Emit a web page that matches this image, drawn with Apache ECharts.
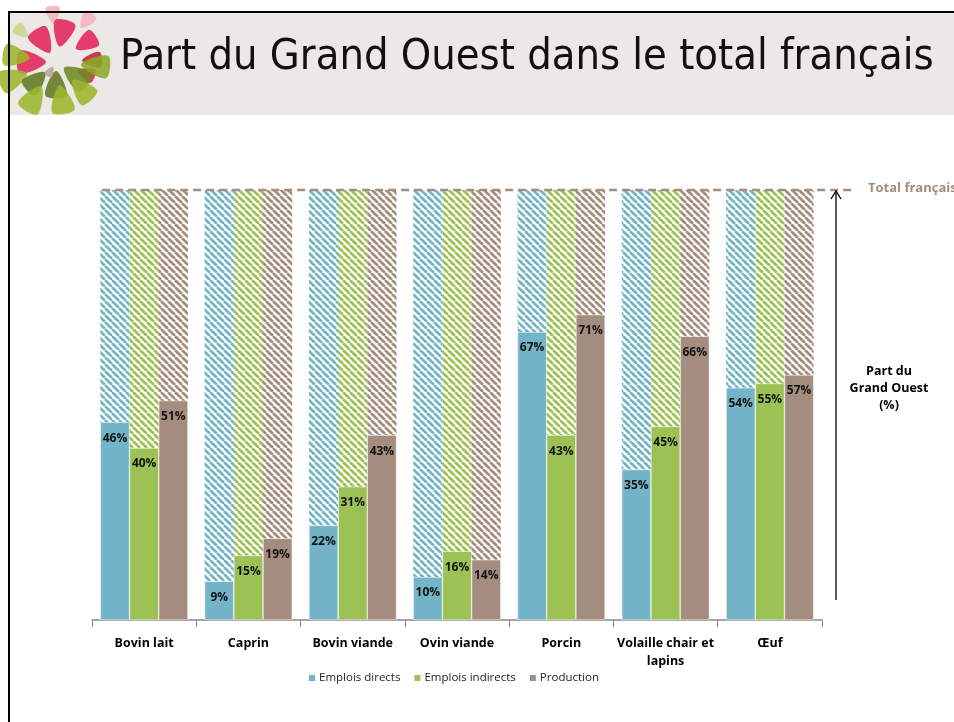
<!DOCTYPE html>
<html>
<head>
<meta charset="utf-8">
<script src="https://cdn.jsdelivr.net/npm/echarts@6/dist/echarts.min.js"></script>
<style>
  html, body { margin: 0; padding: 0; background: #fff; }
  #main { width: 954px; height: 722px; }
</style>
</head>
<body>
<div id="main"></div>
<script>
// filières
var categories = ['Bovin lait', 'Caprin', 'Bovin viande', 'Ovin viande', 'Porcin', 'Volaille chair et\nlapins', 'Œuf'];
// part du Grand Ouest (%)
var emploisDirects = [46, 9, 22, 10, 67, 35, 54];
var emploisIndirects = [40, 15, 31, 16, 43, 45, 55];
var production = [51, 19, 43, 14, 71, 66, 57];
var totalFrancais = 100;

var BLUE = '#74b4c8', GREEN = '#9cc255', BROWN = '#a48c7e';

// hachures diagonales
function hatch(color) {
  var s = 7;
  var c = document.createElement('canvas');
  c.width = s; c.height = s;
  var ctx = c.getContext('2d');
  ctx.fillStyle = '#fff';
  ctx.fillRect(0, 0, s, s);
  ctx.strokeStyle = color;
  ctx.lineWidth = 2.7;
  [-s, 0, s].forEach(function (k) {
    ctx.beginPath();
    ctx.moveTo(k, 0);
    ctx.lineTo(k + s, s);
    ctx.stroke();
  });
  return { image: c, repeat: 'repeat' };
}

function rest(arr) {
  return arr.map(function (v) { return totalFrancais - v; });
}

function solid(name, data, color, stack) {
  return {
    name: name, type: 'bar', stack: stack, data: data,
    barGap: '0%', barCategoryGap: '16%',
    itemStyle: { color: color, borderColor: '#fff', borderWidth: 0.5 },
    label: {
      show: true, position: 'insideTop', distance: 10,
      formatter: '{c}%', fontWeight: 'bold', fontSize: 12, color: '#111',
      fontFamily: 'Open Sans'
    }
  };
}
function hatched(data, color, stack) {
  return {
    type: 'bar', stack: stack, data: rest(data),
    barGap: '0%', barCategoryGap: '16%',
    itemStyle: { color: hatch(color) },
    silent: true
  };
}

var chart = echarts.init(document.getElementById('main'), null, { renderer: 'canvas' });

chart.setOption({
  animation: false,
  textStyle: { fontFamily: 'Open Sans' },
  grid: { left: 92, right: 132, top: 190, bottom: 102 },
  legend: {
    left: 302, top: 667,
    itemWidth: 8, itemHeight: 8, itemGap: 12,
    icon: 'rect',
    data: ['Emplois directs', 'Emplois indirects', 'Production'],
    textStyle: { fontSize: 11.5, color: '#222', fontFamily: 'Open Sans', padding: [0, 0, 0, -2] }
  },
  xAxis: {
    type: 'category', data: categories,
    axisLine: { lineStyle: { color: '#888', width: 1.5 } },
    axisTick: { show: true, length: 7, lineStyle: { color: '#888' } },
    axisLabel: {
      fontWeight: 'bold', fontSize: 12.5, color: '#000', margin: 14,
      lineHeight: 18, interval: 0
    }
  },
  yAxis: {
    type: 'value', min: 0, max: totalFrancais, show: false,
    splitLine: { show: false }
  },
  series: [
    solid('Emplois directs', emploisDirects, BLUE, 'd'),
    hatched(emploisDirects, BLUE, 'd'),
    solid('Emplois indirects', emploisIndirects, GREEN, 'i'),
    hatched(emploisIndirects, GREEN, 'i'),
    solid('Production', production, BROWN, 'p'),
    hatched(production, BROWN, 'p')
  ]
});

// annotations placées à partir des échelles
var yTop = chart.convertToPixel({ yAxisIndex: 0 }, totalFrancais);
var yZero = chart.convertToPixel({ yAxisIndex: 0 }, 0);
var xLeft = chart.convertToPixel({ xAxisIndex: 0 }, categories[0]) - 42;

// logo : pétales triangulaires pointant vers le centre
var LC = [56, 62];
var petals = [
  [53, 14, 10, '#f4b3bf'], [87, 20, 10, '#f4b3bf'], [21, 31, 9, '#c9d68a'],
  [63, 32, 15, '#e2245a'], [42, 40, 15, '#e2245a'], [87, 42, 13, '#e2245a'],
  [30, 62, 16, '#e2245a'], [93, 60, 11, '#c0243e'], [87, 74, 10, '#e2245a'],
  [15, 56, 15, '#9db52c'], [12, 79, 16, '#9db52c'], [35, 82, 14, '#5f7a1f'],
  [56, 86, 15, '#5f7a1f'], [77, 77, 16, '#6e8a22'], [97, 66, 16, '#8aa829'],
  [33, 100, 16, '#9db52c'], [62, 101, 16, '#9db52c'], [83, 91, 15, '#9db52c'],
  [50, 72, 6, '#b8a49a']
];
var logo = petals.map(function (p) {
  var a = Math.atan2(LC[1] - p[1], LC[0] - p[0]);
  var r = p[2];
  var pts = [0, 2.3, -2.3].map(function (d) {
    var ang = a + d;
    var rr = d === 0 ? r : r * 0.95;
    return [p[0] + Math.cos(ang) * rr, p[1] + Math.sin(ang) * rr];
  });
  return {
    type: 'polygon', shape: { points: pts, smooth: 0.35 },
    style: { fill: p[3], opacity: 0.88 }, z: 2
  };
});

chart.setOption({
  graphic: [
    { type: 'rect', shape: { x: 9, y: 12, width: 945, height: 103 }, style: { fill: '#ebe8e5' }, z: 1 },
    { type: 'line', shape: { x1: 8, y1: 12, x2: 954, y2: 12 }, style: { stroke: '#000', lineWidth: 2 }, z: 3 },
    { type: 'line', shape: { x1: 9, y1: 12, x2: 9, y2: 722 }, style: { stroke: '#000', lineWidth: 2 }, z: 3 }
  ].concat(logo).concat([
    {
      type: 'text', left: 120, top: 36, z: 3,
      style: {
        text: 'Part du Grand Ouest dans le total français',
        font: '43px "Liberation Sans Narrow", "DejaVu Sans Condensed", sans-serif',
        fill: '#111'
      }
    },
    {
      type: 'line', z: 5,
      shape: { x1: xLeft, y1: yTop, x2: 855, y2: yTop },
      style: { stroke: BROWN, lineWidth: 2.5, lineDash: [8, 5] }
    },
    {
      type: 'text', left: 868, top: yTop - 8, z: 5,
      style: { text: 'Total français', font: 'bold 13px "Open Sans"', fill: BROWN }
    },
    {
      type: 'line', z: 5,
      shape: { x1: 836, y1: yZero - 20, x2: 836, y2: yTop + 1 },
      style: { stroke: '#000', lineWidth: 1.3 }
    },
    {
      type: 'polyline', z: 5,
      shape: { points: [[831, yTop + 9], [836, yTop + 1], [841, yTop + 9]] },
      style: { stroke: '#000', lineWidth: 1.3, fill: null }
    },
    {
      type: 'text', x: 889, y: 388, z: 5,
      style: {
        text: 'Part du\nGrand Ouest\n(%)', font: 'bold 12.5px "Open Sans"',
        fill: '#000', align: 'center', verticalAlign: 'middle', lineHeight: 17
      }
    }
  ])
});
</script>
</body>
</html>
